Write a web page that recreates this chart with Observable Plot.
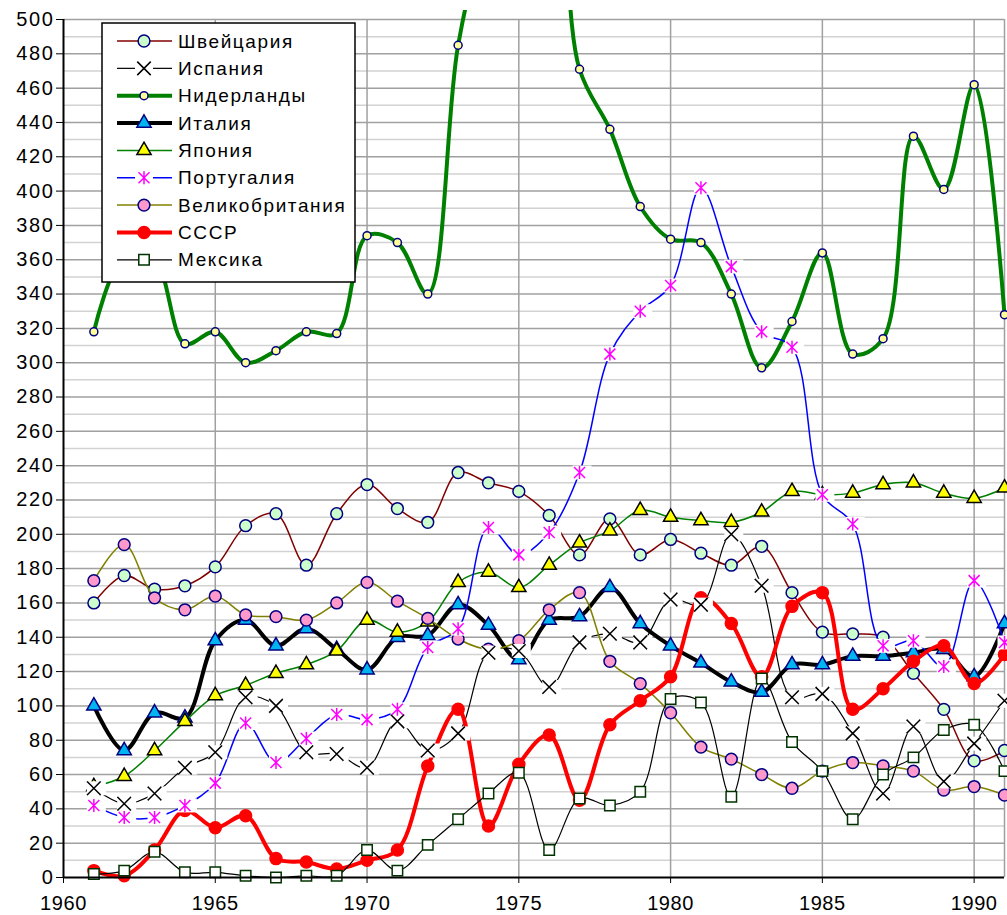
<!DOCTYPE html>
<html><head><meta charset="utf-8">
<script src="https://cdn.jsdelivr.net/npm/d3@7"></script>
<script src="https://cdn.jsdelivr.net/npm/@observablehq/plot@0.6"></script>
<style>
body{margin:0;background:#fff;font-family:"Liberation Sans",Arial,sans-serif;}
#chart{position:relative;width:1007px;height:915px;overflow:hidden;}
</style></head><body><div id="chart"></div>
<script>
const years = d3.range(1961, 1992);
const switzerland = [160,176,168,170,181,205,212,182,212,229,215,207,236,230,225,211,188,209,188,197,189,182,193,166,143,142,140,119,98,68,74];
const spain       = [52,43,49,64,73,105,100,73,72,64,91,74,84,131,132,111,137,142,137,162,159,200,170,105,107,84,49,88,56,78,103];
const netherlands = [318,362,360,311,318,300,307,318,317,374,370,340,485,560,610,600,471,436,391,372,370,340,297,324,364,305,314,432,401,462,328];
const italy       = [100,74,96,93,138,150,135,145,133,121,140,141,159,147,127,150,152,169,148,135,125,114,108,124,124,129,129,131,133,117,148];
const japan       = [53,59,74,91,106,112,119,124,132,150,143,149,172,178,169,182,195,202,214,210,208,207,213,225,223,224,229,230,224,221,227];
const portugal    = [42,35,35,42,55,90,67,81,95,92,98,134,145,204,188,201,236,305,330,345,402,356,318,309,223,206,135,138,123,173,137];
const uk          = [173,194,163,156,164,153,152,150,160,172,161,151,139,133,138,156,166,126,113,96,76,69,60,52,62,67,65,62,51,53,48];
const ussr        = [4,1,16,39,29,36,11,9,5,10,16,65,98,30,66,83,45,89,103,117,163,148,117,158,166,98,110,126,135,113,130];
const mexico      = [2,4,15,3,3,1,0,1,1,16,4,19,34,49,61,16,46,42,50,104,102,47,116,79,62,34,60,70,86,89,62];

const names = ["Швейцария","Испания","Нидерланды","Италия","Япония","Португалия","Великобритания","СССР","Мексика"];
const yTicks = d3.range(0, 501, 20);
const yMinor = d3.range(10, 500, 20);
const xTicks = [1960,1965,1970,1975,1980,1985,1990];
const xGrid = [1965,1970,1975,1980,1985,1990,1991];

const star = {draw(ctx){ ctx.moveTo(0,-6.5); ctx.lineTo(0,6.5); ctx.moveTo(-5.5,-5.5); ctx.lineTo(5.5,5.5); ctx.moveTo(-5.5,5.5); ctx.lineTo(5.5,-5.5); }};
const whiteBox = {draw(ctx){ ctx.rect(-7,-7,19,14); }};

const series = [
  {name:names[0], values:switzerland, stroke:"#800000", sw:1.5, symbol:"circle",   fill:"#ccffcc", mstroke:"#000080", r:5.9},
  {name:names[1], values:spain,       stroke:"#000000", sw:1.2, symbol:"times",    fill:"none",    mstroke:"#000000", r:6.2, box:true},
  {name:names[2], values:netherlands, stroke:"#008000", sw:4,   symbol:"circle",   fill:"#ffff99", mstroke:"#000080", r:4},
  {name:names[3], values:italy,       stroke:"#000000", sw:4,   symbol:"triangle", fill:"#00b4f0", mstroke:"#000080", r:5.3},
  {name:names[4], values:japan,       stroke:"#008000", sw:1.5, symbol:"triangle", fill:"#ffff00", mstroke:"#000000", r:5.3},
  {name:names[5], values:portugal,    stroke:"#0000ff", sw:1.5, symbol:star,       fill:"none",    mstroke:"#ff00ff", r:6, box:true},
  {name:names[6], values:uk,          stroke:"#808000", sw:1.5, symbol:"circle",   fill:"#ff99cc", mstroke:"#000080", r:5.9},
  {name:names[7], values:ussr,        stroke:"#ff0000", sw:4,   symbol:"circle",   fill:"#ff0000", mstroke:"#ff0000", r:6},
  {name:names[8], values:mexico,      stroke:"#000000", sw:1.2, symbol:"square",   fill:"#ffffff", mstroke:"#003300", r:5.9}
];
series.forEach(s => s.data = years.map((y,i) => ({year:y, value:s.values[i]})));

const marks = [
  Plot.ruleY(yMinor, {stroke:"#d2d2d2", strokeWidth:1.5}),
  Plot.ruleY(yTicks.filter(v => v > 0), {stroke:"#a0a0a0", strokeWidth:1.5}),
  Plot.ruleX(xGrid, {stroke:"#a0a0a0", strokeWidth:1.5})
];
const dotMark = s => Plot.dot(s.data.filter(d => d.value <= 500), {x:"year", y:"value", symbol:() => s.symbol, r:s.r, fill:s.fill, stroke:s.mstroke, strokeWidth:1.5});
for (const s of series) {
  marks.push(Plot.line(s.data, {x:"year", y:"value", stroke:s.stroke, strokeWidth:s.sw, curve:"catmull-rom"}));
  marks.push(dotMark(s));
}
for (const s of series.filter(s => s.box)) {
  marks.push(Plot.dot(s.data, {x:"year", y:"value", symbol:() => whiteBox, r:5, fill:"white", stroke:"none"}));
}
for (const s of series.filter(s => s.box)) marks.push(dotMark(s));
marks.push(Plot.ruleX([1960], {stroke:"black", strokeWidth:2}));
marks.push(Plot.ruleY([0], {stroke:"black", strokeWidth:2}));

const chart = Plot.plot({
  width: 1007, height: 915,
  marginTop: 19, marginBottom: 38, marginLeft: 63, marginRight: 3,
  x: {domain:[1960,1991], ticks:xTicks, tickSize:6, tickPadding:12, tickFormat:d => String(d), label:null},
  y: {domain:[0,500], ticks:yTicks, tickSize:7, tickPadding:2, label:null},
  symbol: {type:"identity"},
  style: {fontFamily:"'Liberation Sans', Arial, sans-serif", fontSize:"20px", overflow:"hidden", background:"white"},
  marks
});
document.getElementById("chart").appendChild(chart);

const svg = d3.select(chart);
svg.selectAll('[aria-label="y-axis tick label"] text').style("letter-spacing","1.6px");
svg.selectAll('[aria-label="x-axis tick label"] text').style("letter-spacing","0.6px");

// the original chart area ends a little above the frame: blank out the strip above it
svg.append("rect").attr("x",63).attr("y",0).attr("width",944).attr("height",10).attr("fill","white");

// legend (inside the plot frame, upper left)
const symbolTypes = {circle:d3.symbolCircle, times:d3.symbolTimes, triangle:d3.symbolTriangle, square:d3.symbolSquare};
const lg = svg.append("g").attr("class","legend").attr("text-anchor","start");
lg.append("rect").attr("x",102).attr("y",23).attr("width",253).attr("height",259)
  .attr("fill","white").attr("stroke","black").attr("stroke-width",1.5);
series.forEach((s,i) => {
  const cy = 41 + i*27.35;
  const g = lg.append("g").attr("transform",`translate(0,${cy})`);
  if (s.box) {
    g.append("line").attr("x1",117).attr("x2",135).attr("stroke",s.stroke).attr("stroke-width",s.sw);
    g.append("line").attr("x1",153).attr("x2",172).attr("stroke",s.stroke).attr("stroke-width",s.sw);
  } else {
    g.append("line").attr("x1",117).attr("x2",172).attr("stroke",s.stroke).attr("stroke-width",s.sw);
  }
  const symType = typeof s.symbol === "string" ? symbolTypes[s.symbol] : s.symbol;
  g.append("path").attr("transform","translate(144,0)")
    .attr("d", d3.symbol(symType, Math.PI*s.r*s.r)())
    .attr("fill", s.fill).attr("stroke", s.mstroke).attr("stroke-width",1.5);
  g.append("text").attr("x",178).attr("dy","0.35em").attr("text-anchor","start")
    .style("font-size","19px").style("letter-spacing","1.6px")
    .attr("fill","black").text(s.name);
});
</script></body></html>
